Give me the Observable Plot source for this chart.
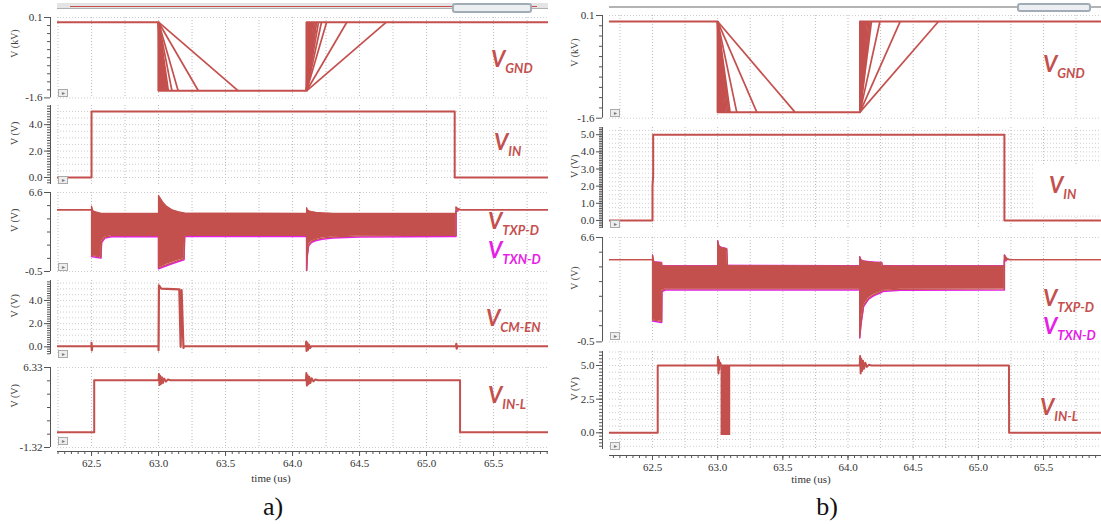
<!DOCTYPE html>
<html><head><meta charset="utf-8">
<script src="https://cdn.jsdelivr.net/npm/d3@7"></script>
<script src="https://cdn.jsdelivr.net/npm/@observablehq/plot@0.6"></script>
<style>
body{margin:0;background:#fff;}
#root{position:relative;width:1101px;height:524px;overflow:hidden;background:#fff;}
#root svg{position:absolute;overflow:visible;font-family:"Liberation Serif",serif !important;}
#root svg text{font-family:"Liberation Serif",serif !important;}
.lbl{position:absolute;font-family:Lato,"Open Sans",sans-serif;font-style:italic;font-weight:700;font-size:22px;line-height:1;color:#c4504e;white-space:nowrap;}
.lbl sub{font-size:13px;vertical-align:-6px;}
.lbl.mag{color:#e61ee6;}
.lbl.box{background:#fff;padding:10px 40px 14px 14px;margin:-10px 0 0 -14px;}
.cap{position:absolute;font-family:"Liberation Serif",serif;font-size:26px;line-height:1;color:#111;transform:translateX(-50%);}
.xl{position:absolute;font-family:"Liberation Serif",serif;font-size:11px;line-height:1;color:#333;transform:translateX(-50%);white-space:nowrap;}
.btn{position:absolute;width:8px;height:6px;border:1px solid #aaa;background:#eee;font-size:6px;line-height:6px;text-align:center;color:#777;}
.bar{position:absolute;}
</style></head><body><div id="root"></div>
<script>
// ---------------- data ----------------
const TRACE = "#c4504e";
const MAG = "#e61ee6";

// vertical grid (time, us) and x-axis ticks
const timeGrid = [62.25,62.5,62.75,63.0,63.25,63.5,63.75,64.0,64.25,64.5,64.75,65.0,65.25,65.5,65.75];
const timeTicks = [62.5,63.0,63.5,64.0,64.5,65.0,65.5];

// ---- panel a ----
const vgndLevelsA = [0, -1.45];           // high, low (kV)
const vgndFallA = 63.0, vgndRiseA = 64.105;
const vgndFallEndsA = [63.0,63.006,63.012,63.018,63.024,63.03,63.036,63.042,63.05,63.058,63.066,63.073,63.1,63.146,63.297,63.595];
const vgndRiseEndsA = [64.105,64.11,64.116,64.122,64.128,64.135,64.142,64.15,64.16,64.17,64.18,64.194,64.216,64.254,64.405,64.70];

const vinA = [[62.1,0],[62.5,0],[62.5,5.0],[65.21,5.0],[65.21,0],[66.0,0]];

// VTXP-D envelope: [time, low, high]
const vtxA = [
 [62.1,5.05,5.05],[62.5,5.05,5.05],[62.5,0.95,5.38],[62.51,0.92,4.95],[62.53,0.88,4.85],[62.57,0.80,4.72],
 [62.575,2.2,4.72],[62.6,2.6,4.72],[62.65,2.72,4.72],[63.0,2.74,4.72],
 [63.0,-0.15,6.33],[63.03,-0.02,5.75],[63.06,0.12,5.35],[63.1,0.3,5.05],[63.15,0.5,4.85],[63.19,0.65,4.76],
 [63.195,2.74,4.74],[64.105,2.74,4.72],
 [64.105,-0.4,5.23],[64.11,1.0,5.05],[64.12,1.9,4.95],[64.14,2.2,4.88],[64.17,2.36,4.82],[64.22,2.5,4.76],
 [64.3,2.6,4.72],[64.5,2.7,4.72],[65.22,2.74,4.72],
 [65.22,5.0,5.3],[65.235,5.05,5.15],[65.26,5.05,5.05],[66.0,5.05,5.05]
];

const vcmA = [
 [62.1,0.05],[62.5,0.05],[62.5,0.35],[62.502,-0.3],[62.505,0.05],[63.0,0.05],[63.0,-0.3],
 [63.003,5.3],[63.02,5.02],[63.155,4.95],[63.165,0.0],[63.172,4.9],[63.186,-0.1],[63.19,0.05],
 [64.1,0.05],[64.102,0.45],[64.105,-0.35],[64.11,0.35],[64.115,-0.25],[64.122,0.2],[64.13,-0.1],[64.14,0.05],
 [65.22,0.05],[65.222,0.25],[65.225,-0.15],[65.23,0.05],[66.0,0.05]
];

const vinlA = [
 [62.1,0.14],[62.52,0.14],[62.52,5.12],[63.0,5.12],[63.003,5.7],[63.007,4.65],[63.012,5.55],[63.018,4.75],
 [63.025,5.4],[63.033,4.85],[63.042,5.28],[63.055,4.98],[63.07,5.18],[63.09,5.12],
 [64.1,5.12],[64.103,5.8],[64.107,4.6],[64.112,5.6],[64.118,4.72],[64.125,5.45],[64.133,4.85],[64.143,5.3],
 [64.155,5.0],[64.17,5.18],[64.19,5.12],[65.25,5.12],[65.25,0.14],[66.0,0.14]
];

// ---- panel b ----
const vgndLevelsB = [0, -1.5];
const vgndFallB = 63.0, vgndRiseB = 64.092;
const vgndFallEndsB = [63.0,63.006,63.012,63.018,63.024,63.03,63.038,63.046,63.055,63.065,63.075,63.085,63.095,63.146,63.3,63.593];
const vgndRiseEndsB = [64.092,64.098,64.104,64.11,64.117,64.124,64.132,64.14,64.15,64.16,64.17,64.18,64.245,64.4,64.694];

const vinB = [[62.1,0],[62.5,0],[62.5,2.0],[62.505,2.6],[62.505,5.0],[65.2,5.0],[65.2,0],[66.0,0]];

const vtxB = [
 [62.1,5.1,5.1],[62.5,5.1,5.1],[62.5,1.0,5.4],[62.51,0.98,4.92],[62.57,0.9,4.88],
 [62.572,3.0,4.66],[62.6,3.1,4.65],[63.0,3.1,4.65],
 [63.0,3.1,6.37],[63.01,3.1,6.0],[63.03,3.1,5.9],[63.07,3.1,5.82],[63.075,3.1,4.68],
 [64.09,3.1,4.65],[64.09,-0.16,5.28],[64.1,0.8,5.05],[64.12,2.0,4.98],[64.16,2.5,4.93],[64.2,2.72,4.9],
 [64.26,2.95,4.88],[64.262,3.0,4.66],[64.4,3.08,4.65],[65.2,3.1,4.65],
 [65.2,5.1,5.4],[65.215,5.1,5.2],[65.24,5.1,5.1],[66.0,5.1,5.1]
];

const vinlB = [
 [62.1,0],[62.54,0],[62.54,5.0],[63.0,5.0],[63.002,5.65],[63.006,4.4],[63.01,5.4],[63.015,4.7],[63.02,5.2],[63.026,5.0],
 [64.09,5.0],[64.093,5.7],[64.097,4.4],[64.102,5.5],[64.108,4.6],[64.115,5.35],[64.123,4.75],[64.133,5.2],
 [64.145,4.9],[64.16,5.05],[64.18,5.0],[65.235,5.0],[65.235,2.1],[65.236,2.0],[65.236,0],[66.0,0]
];
const vinlBurstB = [[63.026,-0.2,4.5],[63.032,-0.2,5.0],[63.1,-0.2,5.0]];

// tick labels per subplot
const ticksGnd = [0.1,-1.6], minorGnd = [-0.07,-0.24,-0.41,-0.58,-0.75,-0.92,-1.09,-1.26,-1.43];
const ticksVinA = [0,2,4];
const ticksTx = [6.6,-0.5], minorTxA = [5.42,4.23,3.05,1.87,0.68], minorTxB = [5.6,4.6,3.6,2.6,1.6,0.6];
const ticksCmA = [0,2,4];
const ticksVinlA = [6.33,-1.32], minorVinlA = [5.055,3.78,2.505,1.23,-0.045];
const ticksVinB = [0,1,2,3,4,5];
const ticksVinlB = [0,2.5,5];

// ---------------- drawing ----------------
const root = document.getElementById("root");
const AX_GAP = 7;
const baseStyle = {background:"transparent", fontFamily:"'Liberation Serif', serif", fontSize:"11px", color:"#333", overflow:"visible"};
function place(el, left, top){ el.style.left = left+"px"; el.style.top = top+"px"; root.appendChild(el); return el; }
function steps(a, b, k){ return d3.range(Math.round(a*k), Math.round(b*k)+1).map(i => i/k); }
function fmtTick(spec){ const f = d3.format(spec); return v => f(v).replace("\u2212", "-"); }

const panelA = {x0:0, plotLeft:57, plotRight:548, xDomain:[62.246,65.91], axisY:451};
const panelB = {x0:560, plotLeft:609, plotRight:1101, xDomain:[62.17,65.945], axisY:455};

function sub(p, s){
  const pad = 8, ml = p.plotLeft - p.x0;
  const chart = Plot.plot({
    width: p.plotRight - p.x0, height: s.yBottom - s.yTop + 2*pad,
    marginLeft: ml, marginRight: 0, marginTop: pad, marginBottom: pad,
    x: {domain: p.xDomain, axis: null, label: null},
    y: {domain: s.yDomain, axis: null, label: null},
    style: baseStyle,
    marks: [
      Plot.gridX(timeGrid.filter(t => t > p.xDomain[0] && t < p.xDomain[1]), {stroke:"#bdbdbd", strokeOpacity:1, strokeDasharray:"1,2"}),
      Plot.gridY(s.hgrid, {stroke:"#cfcfcf", strokeOpacity:1, strokeDasharray:"1,2"}),
      Plot.ruleX([p.xDomain[0]], {y1: s.yDomain[0], y2: s.yDomain[1], dx: -AX_GAP, stroke:"#555"}),
      Plot.axisY(s.minor, {tickSize:3, tickFormat: () => "", dx: -AX_GAP, stroke:"#555", label:null}),
      Plot.axisY(s.labeled, {tickSize:6, tickFormat: fmtTick(s.fmt), dx: -AX_GAP, stroke:"#555", tickPadding:2, label:null, fill:"#333"}),
      Plot.text([s.ylabel], {frameAnchor:"left", rotate:-90, dx: -(ml - 14), fontSize:10, fill:"#444"}),
      ...s.marks
    ]
  });
  place(chart, p.x0, s.yTop - pad);
}

function xaxis(p){
  const ml = p.plotLeft - p.x0;
  const minor = steps(62.0, 66.0, 20).filter(t => t >= p.xDomain[0] && t <= p.xDomain[1]);
  const chart = Plot.plot({
    width: p.plotRight - p.x0, height: 30, marginLeft: ml, marginRight: 0, marginTop: 0, marginBottom: 28,
    x: {domain: p.xDomain, axis: null, label: null},
    y: {domain: [0,1], axis: null, label: null},
    style: baseStyle,
    marks: [
      Plot.ruleY([0], {stroke:"#555"}),
      Plot.axisX(minor, {anchor:"bottom", tickSize:3, tickFormat: () => "", stroke:"#555", label:null}),
      Plot.axisX(timeTicks, {anchor:"bottom", tickSize:5, tickPadding:3, tickFormat: fmtTick(".1f"), stroke:"#555", label:null, fill:"#333"})
    ]
  });
  place(chart, p.x0, p.axisY - 2);
}

function gndMarks(levels, tFall, tRise, fallEnds, riseEnds){
  const [hi, lo] = levels;
  const path = [[62.0,hi],[tFall,hi],[tFall,lo],[tRise,lo],[tRise,hi],[66.0,hi]];
  const fall = fallEnds.map(e => ({t1:tFall, v1:hi, t2:e, v2:lo}));
  const rise = riseEnds.map(e => ({t1:tRise, v1:lo, t2:e, v2:hi}));
  return [
    Plot.link(fall, {x1:"t1", y1:"v1", x2:"t2", y2:"v2", stroke:TRACE, strokeWidth:1.7, clip:true}),
    Plot.link(rise, {x1:"t1", y1:"v1", x2:"t2", y2:"v2", stroke:TRACE, strokeWidth:1.7, clip:true}),
    Plot.line(path, {x:d=>d[0], y:d=>d[1], stroke:TRACE, strokeWidth:2, clip:true})
  ];
}
function stepLine(data, w){ return Plot.line(data, {x:d=>d[0], y:d=>d[1], stroke:TRACE, strokeWidth:w||2, clip:true}); }
function bandMarks(data, topMagenta){
  const band = d => d[1] !== d[2];
  const m = [Plot.line(data, {filter: band, x:d=>d[0], y:d=>d[1], stroke:MAG, strokeWidth:1.5, dy:1.1, clip:true})];
  if (topMagenta) m.push(Plot.line(data, {filter: band, x:d=>d[0], y:d=>d[2], stroke:MAG, strokeWidth:1, dy:-0.6, clip:true}));
  return m.concat([
    Plot.areaY(data, {x:d=>d[0], y1:d=>d[1], y2:d=>d[2], fill:TRACE, clip:true}),
    Plot.line(data, {x:d=>d[0], y:d=>d[1], stroke:TRACE, strokeWidth:1.3, clip:true}),
    Plot.line(data, {x:d=>d[0], y:d=>d[2], stroke:TRACE, strokeWidth:1.3, clip:true})
  ]);
}

// ---- panel a subplots ----
sub(panelA, {yTop:17.3, yBottom:97.7, yDomain:[-1.6,0.1], labeled:ticksGnd, fmt:".1f", minor:minorGnd, hgrid:ticksGnd, ylabel:"V (kV)",
  marks: gndMarks(vgndLevelsA, vgndFallA, vgndRiseA, vgndFallEndsA, vgndRiseEndsA)});
sub(panelA, {yTop:105, yBottom:184, yDomain:[-0.53,5.45], labeled:ticksVinA, fmt:".1f", minor:steps(-0.4,5.4,5), hgrid:steps(0,5,2), ylabel:"V (V)",
  marks: [stepLine(vinA)]});
sub(panelA, {yTop:191.7, yBottom:270.7, yDomain:[-0.5,6.6], labeled:ticksTx, fmt:".1f", minor:minorTxA, hgrid:ticksTx, ylabel:"V (V)",
  marks: bandMarks(vtxA, false)});
sub(panelA, {yTop:280, yBottom:354, yDomain:[-0.66,5.72], labeled:ticksCmA, fmt:".1f", minor:steps(-0.6,5.6,5), hgrid:steps(0,5.5,2), ylabel:"V (V)",
  marks: [stepLine(vcmA, 2.2)]});
sub(panelA, {yTop:367.3, yBottom:447.3, yDomain:[-1.32,6.33], labeled:ticksVinlA, fmt:".2f", minor:minorVinlA, hgrid:ticksVinlA, ylabel:"V (V)",
  marks: [stepLine(vinlA, 2)]});
xaxis(panelA);

// ---- panel b subplots ----
sub(panelB, {yTop:15, yBottom:117.7, yDomain:[-1.6,0.1], labeled:ticksGnd, fmt:".1f", minor:minorGnd, hgrid:ticksGnd, ylabel:"V (kV)",
  marks: gndMarks(vgndLevelsB, vgndFallB, vgndRiseB, vgndFallEndsB, vgndRiseEndsB)});
sub(panelB, {yTop:127, yBottom:228, yDomain:[-0.47,5.42], labeled:ticksVinB, fmt:".1f", minor:steps(-0.4,5.4,10), hgrid:steps(0,5.25,4), ylabel:"V (V)",
  marks: [stepLine(vinB)]});
sub(panelB, {yTop:237.3, yBottom:341.7, yDomain:[-0.5,6.6], labeled:ticksTx, fmt:".1f", minor:minorTxB, hgrid:ticksTx, ylabel:"V (V)",
  marks: bandMarks(vtxB, true)});
sub(panelB, {yTop:351, yBottom:449, yDomain:[-1.24,6.04], labeled:ticksVinlB, fmt:".1f", minor:steps(-1,6,4), hgrid:steps(-1,6,2), ylabel:"V (V)",
  marks: [Plot.areaY(vinlBurstB, {x:d=>d[0], y1:d=>d[1], y2:d=>d[2], fill:TRACE, clip:true}), stepLine(vinlB, 2)]});
xaxis(panelB);

// ---------------- text overlays ----------------
function label(left, top, main, subText, cls){
  const d = document.createElement("div");
  d.className = "lbl " + (cls || "");
  d.innerHTML = main + "<sub>" + subText + "</sub>";
  return place(d, left, top);
}
function div(cls, left, top, text){ const d = document.createElement("div"); d.className = cls; if (text) d.textContent = text; return place(d, left, top); }

label(491, 48, "V", "GND");
label(494, 131, "V", "IN");
label(488, 210, "V", "TXP-D");
label(488, 239, "V", "TXN-D", "mag");
label(486, 307, "V", "CM-EN");
label(488, 384, "V", "IN-L");

label(1043, 53, "V", "GND");
label(1049, 174, "V", "IN", "box");
label(1043, 287, "V", "TXP-D");
label(1043, 315, "V", "TXN-D", "mag");
label(1040, 396, "V", "IN-L");

div("xl", 271, 473, "time (us)");
div("xl", 811, 474, "time (us)");
div("cap", 273, 494, "a)");
div("cap", 827, 494, "b)");

// small expand buttons at the bottom-left of each strip
[[58,89],[58,176],[58,263],[58,350],[58,437],[610,109],[610,220],[610,332],[610,442]].forEach(([x,y]) => div("btn", x, y, "▸"));

// top scroll strips
const barA = div("bar", 57, 3); Object.assign(barA.style, {width:"491px", height:"5px", background:"#e4e4e4", borderBottom:"1px solid #b0b0b0"});
const lineA = div("bar", 70, 6); Object.assign(lineA.style, {width:"467px", height:"1px", background:TRACE});
const thumbA = div("bar", 452, 3); Object.assign(thumbA.style, {width:"76px", height:"6px", border:"2px solid #a2acb6", borderRadius:"3px", background:"#eceff2"});
const barB = div("bar", 609, 6); Object.assign(barB.style, {width:"492px", height:"2px", background:"#b3b3b3"});
const thumbB = div("bar", 1017, 3); Object.assign(thumbB.style, {width:"70px", height:"5px", border:"2px solid #a2acb6", borderRadius:"3px", background:"#eceff2"});
</script></body></html>
